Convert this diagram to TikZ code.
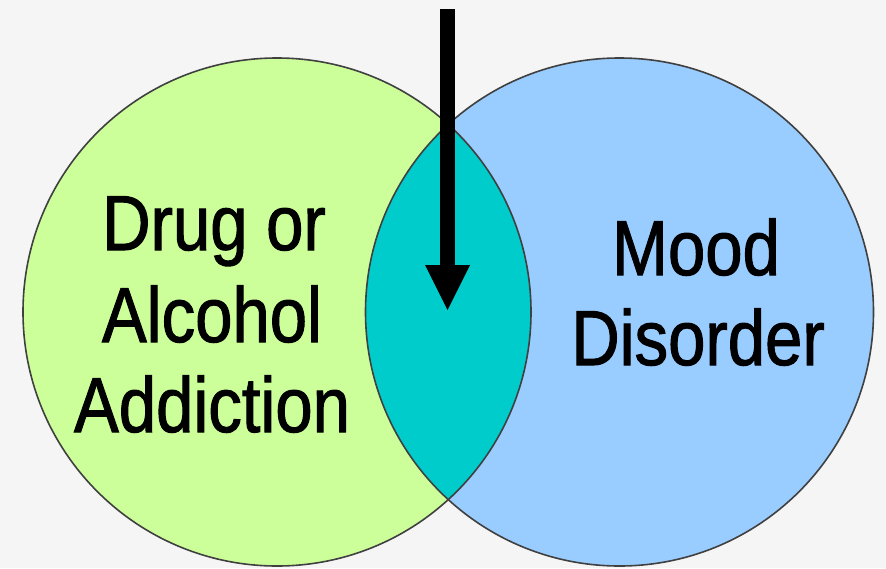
\documentclass[tikz,border=0pt]{standalone}
\usepackage{fontspec}
\newfontfamily\labfont[FakeStretch=0.86,FakeBold=1.3]{Liberation Sans}
\usetikzlibrary{calc}
\definecolor{bg}{RGB}{245,245,245}
\definecolor{leftc}{RGB}{204,255,153}
\definecolor{rightc}{RGB}{153,204,255}
\definecolor{lensc}{RGB}{0,204,204}
\definecolor{edge}{RGB}{64,64,64}
\tikzset{
  lab/.style={anchor=base, inner sep=0pt, font=\labfont\fontsize{78}{91}\selectfont, text=black},
  rim/.style={draw=edge, line width=1.6pt}
}
\begin{document}
\begin{tikzpicture}[x=1pt,y=-1pt]
\fill[bg] (0,0) rectangle (886,568);
\useasboundingbox (0,0) rectangle (886,568);
\coordinate (cl) at (277,312);
\coordinate (cr) at (619.5,312);
\fill[leftc] (cl) circle (254);
\fill[rightc] (cr) circle (254);
\begin{scope}
  \clip (cl) circle (254);
  \fill[lensc] (cr) circle (254);
\end{scope}
\draw[rim] (cl) circle (254);
\draw[rim] (cr) circle (254);
% labels
\node[lab] (l1) at (214,250) {Drug or};
\node[lab] (l2) at (212,342) {Alcohol};
\node[lab] (l3) at (212,432) {Addiction};
\node[lab] (r1) at (696,275) {Mood};
\node[lab] (r2) at (698,365) {Disorder};
% arrow
\coordinate (top) at (447.5,9);
\coordinate (tip) at (447.5,310);
\fill[black] ($(top)+(-7.5,0)$) rectangle ($(tip)+(7.5,-44)$);
\fill[black] ($(tip)+(-22.5,-45)$) -- ($(tip)+(22.5,-45)$) -- (tip) -- cycle;
\end{tikzpicture}
\end{document}
